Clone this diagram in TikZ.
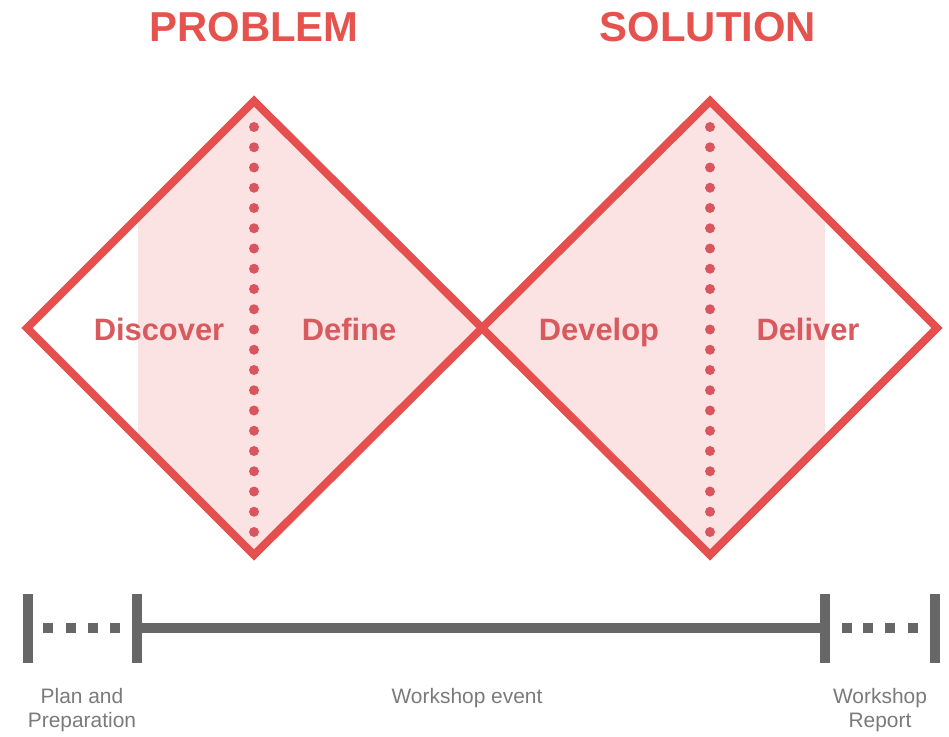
\documentclass[tikz,border=0pt]{standalone}
\usepackage{fontspec}
\setmainfont{Liberation Sans}
\definecolor{edgered}{HTML}{E5504F}
\definecolor{labelred}{HTML}{D85A5E}
\definecolor{titlered}{HTML}{E5534F}
\definecolor{phasefill}{HTML}{FCE3E3}
\definecolor{dotred}{HTML}{D9565E}
\definecolor{barsgrey}{HTML}{676767}
\definecolor{capgrey}{HTML}{7A7A7A}
\begin{document}
\begin{tikzpicture}[x=1bp,y=-1bp,
  outline/.style={draw=edgered, line width=8bp, line join=miter},
  phase/.style={text=labelred, anchor=base, font=\fontsize{31}{34}\selectfont\bfseries},
  headline/.style={text=titlered, anchor=base, font=\fontsize{42}{46}\selectfont\bfseries},
  tick/.style={draw=barsgrey, line width=10bp},
  span/.style={draw=barsgrey, line width=10bp},
  gap/.style={fill=barsgrey},
  caption/.style={text=capgrey, font=\fontsize{21}{24}\selectfont, align=center}]
\useasboundingbox (0,0) rectangle (949,737);

% diamond corners
\coordinate (L1) at (27,328);
\coordinate (T1) at (254,101);
\coordinate (B1) at (254,555);
\coordinate (M)  at (482,328);
\coordinate (T2) at (710,101);
\coordinate (B2) at (710,555);
\coordinate (R2) at (937,328);

% tinted band inside both diamonds
\begin{scope}
  \clip (L1)--(T1)--(M)--(B1)--cycle (M)--(T2)--(R2)--(B2)--cycle;
  \fill[phasefill] (138,80) rectangle (825,580);
\end{scope}

% dotted dividers
\foreach \i in {0,...,20} {
  \fill[dotred] (254,127+20.25*\i) circle (5);
  \fill[dotred] (710,127+20.25*\i) circle (5);
}

% outlines
\draw[outline] (L1)--(T1)--(M)--(B1)--cycle;
\draw[outline] (M)--(T2)--(R2)--(B2)--cycle;

% headings
\node[headline] (problem)  at (254,42) {PROBLEM};
\node[headline] (solution) at (708,42) {SOLUTION};

% phase labels
\node[phase] (discover) at (159,340) {Discover};
\node[phase] (define)   at (349,340) {Define};
\node[phase] (develop)  at (599,340) {Develop};
\node[phase] (deliver)  at (808,340) {Deliver};

% timeline
\coordinate (s0) at (28,628);
\coordinate (s1) at (137,628);
\coordinate (s2) at (825,628);
\coordinate (s3) at (935,628);
\foreach \c in {s0,s1,s2,s3}
  \draw[tick] ([yshift=-35bp]\c) -- ([yshift=34bp]\c);
\draw[span] (s1) -- (s2);
\foreach \x in {48,70.5,93,115,847,868,890,913}
  \fill[gap] (\x-5,623) rectangle ++(10,10);

% timeline captions
\node[caption] (plan)  at (82,710) {Plan and\\Preparation};
\node[caption] (event) at (467,698) {Workshop event};
\node[caption] (report) at (880,710) {Workshop\\Report};
\end{tikzpicture}
\end{document}
